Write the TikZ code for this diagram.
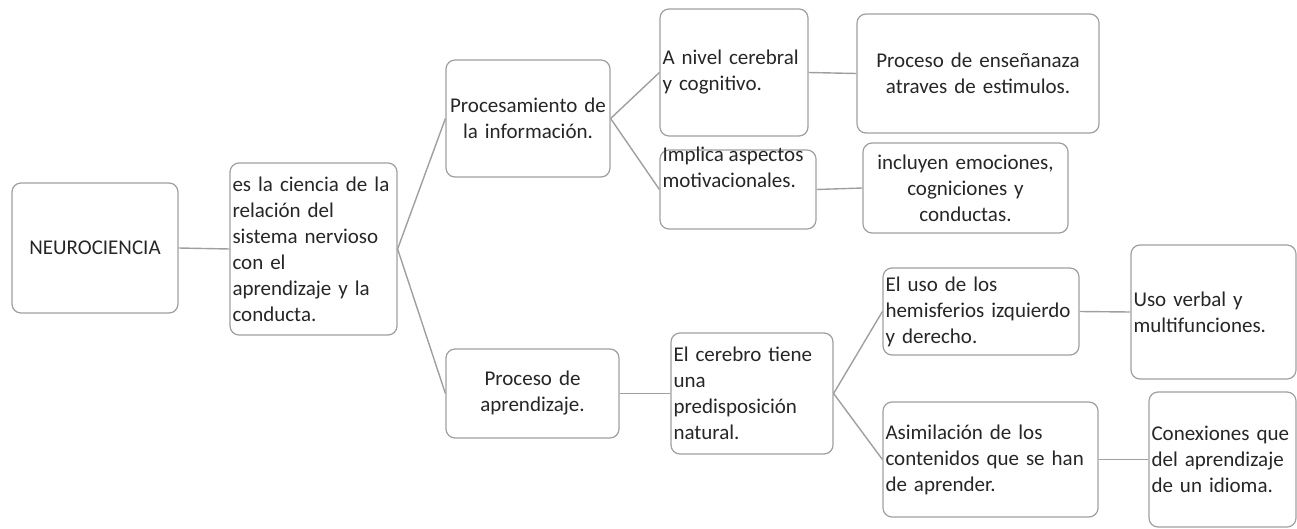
\documentclass[tikz,border=0pt]{standalone}
\usepackage{fontspec}
\setmainfont{Carlito}

\tikzset{
  box/.style={draw=gray!75, line width=1.2pt, rounded corners=9pt, inner xsep=2.5pt, inner ysep=0pt,
    text=black!85, font=\fontsize{21}{26}\selectfont},
  link/.style={draw=gray!75, line width=1.4pt}
}

\begin{document}
\begin{tikzpicture}[x=1pt,y=-1pt]

      \useasboundingbox (0,0) rectangle (1297,529); % page

      \node[box, align=center, text width=161pt, minimum height=130pt] (neuro) at (95,248) {NEUROCIENCIA};
      \node[box, align=left, text width=162pt, minimum height=172pt] (ciencia) at (313.5,249)
        {es la ciencia de la\\relación del\\sistema nervioso\\con el\\aprendizaje y la\\conducta.};

      \node[box, align=center, text width=159pt, minimum height=117pt] (proc) at (528,118.5) {Procesamiento de\\la información.};
      \node[box, align=center, text width=168pt, minimum height=89pt] (aprend) at (532.5,393.5) {Proceso de\\aprendizaje.};

      \node[box, align=left, text width=143pt, minimum height=127pt] (nivel) at (734,72.5) {A nivel cerebral\\y cognitivo.};
      \node[box, align=left] (motiv) at (738,189.5)
        {\parbox[c][79pt][t]{151pt}{\vspace*{-3pt}Implica aspectos\\motivacionales.}};

      \node[box, align=center, text width=237pt, minimum height=119pt] (ensen) at (978,73.5) {Proceso de enseñanaza\\atraves de estimulos.};
      \node[box, align=center, text width=200pt, minimum height=90pt] (emoc) at (965.5,188) {incluyen emociones,\\cogniciones y\\conductas.};

      \node[box, align=left, text width=157pt, minimum height=121pt] (cerebro) at (752,393.5)
        {El cerebro tiene\\una\\predisposición\\natural.};

      \node[box, align=left, text width=191pt, minimum height=87pt] (hemis) at (981,311.5) {El uso de los\\hemisferios izquierdo\\y derecho.};
      \node[box, align=left, text width=210pt, minimum height=115pt] (asim) at (990.5,459.5) {Asimilación de los\\contenidos que se han\\de aprender.};

      \node[box, align=left, text width=160pt, minimum height=134pt] (verbal) at (1213.5,312) {Uso verbal y\\multifunciones.};
      \node[box, align=left, text width=142pt, minimum height=135pt] (conex) at (1222.5,459.5) {Conexiones que\\del aprendizaje\\de un idioma.};

      \foreach \a/\b in {neuro/ciencia,ciencia/proc,ciencia/aprend,proc/nivel,proc/motiv,nivel/ensen,motiv/emoc,
                         aprend/cerebro,cerebro/hemis,cerebro/asim,hemis/verbal,asim/conex}
      \draw[link] (\a.east) -- (\b.west);

    \end{tikzpicture}
\end{document}
